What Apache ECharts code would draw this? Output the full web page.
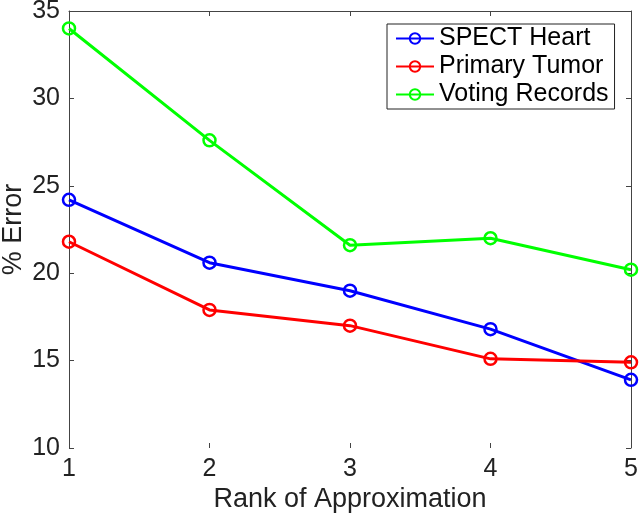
<!DOCTYPE html>
<html>
<head>
<meta charset="utf-8">
<script src="https://cdn.jsdelivr.net/npm/echarts@6/dist/echarts.min.js"></script>
<style>
html,body{margin:0;padding:0;background:#fff;}
#chart{width:640px;height:514px;}
</style>
</head>
<body>
<div id="chart"></div>
<script>
const ranks = [1, 2, 3, 4, 5];
const spectHeart = [24.2, 20.6, 19.0, 16.8, 13.9];
const primaryTumor = [21.8, 17.9, 17.0, 15.1, 14.9];
const votingRecords = [34.0, 27.6, 21.6, 22.0, 20.2];
const seriesNames = ['SPECT Heart', 'Primary Tumor', 'Voting Records'];
const seriesColors = ['#0000ff', '#ff0000', '#00ff00'];
const seriesValues = [spectHeart, primaryTumor, votingRecords];

const FONT = 'Liberation Sans, Arial, Helvetica, sans-serif';
const axisCol = '#444';

const chart = echarts.init(document.getElementById('chart'), null, {renderer: 'canvas'});
chart.setOption({
  animation: false,
  backgroundColor: '#fff',
  textStyle: {fontFamily: FONT},
  grid: {left: 69, right: 9, top: 11, bottom: 66, containLabel: false, outerBoundsMode: 'none'},
  legend: {
    orient: 'vertical',
    left: 387, top: 24,
    data: seriesNames,
    itemWidth: 38, itemHeight: 13, itemGap: 3,
    padding: [2, 6, 2, 8],
    backgroundColor: '#fff',
    borderColor: '#222', borderWidth: 1,
    textStyle: {fontSize: 25, color: '#000', fontFamily: FONT, lineHeight: 25}
  },
  xAxis: [{
    type: 'value', min: 1, max: 5, interval: 1,
    name: 'Rank of Approximation', nameLocation: 'middle', nameGap: 38,
    nameMoveOverlap: false,
    nameTextStyle: {fontSize: 27, color: '#222', fontFamily: FONT},
    axisLine: {show: false},
    axisTick: {show: true, inside: true, length: 5, lineStyle: {color: axisCol}},
    axisLabel: {fontSize: 25, color: '#222', margin: 9, fontFamily: FONT},
    splitLine: {show: false}
  }, {
    type: 'value', min: 1, max: 5, interval: 1, position: 'top',
    axisLine: {show: true, onZero: false, lineStyle: {color: axisCol, width: 1}},
    axisTick: {show: true, inside: true, length: 5, lineStyle: {color: axisCol}},
    axisLabel: {show: false}, splitLine: {show: false}
  }],
  yAxis: [{
    type: 'value', min: 10, max: 35, interval: 5,
    name: '% Error', nameLocation: 'middle', nameGap: 42,
    nameMoveOverlap: false,
    nameTextStyle: {fontSize: 27, color: '#222', fontFamily: FONT},
    axisLine: {show: true, onZero: false, lineStyle: {color: axisCol, width: 1}},
    axisTick: {show: true, inside: true, length: 5, lineStyle: {color: axisCol}},
    axisLabel: {fontSize: 25, color: '#222', margin: 9, fontFamily: FONT},
    splitLine: {show: false}
  }, {
    type: 'value', min: 10, max: 35, interval: 5, position: 'right',
    axisLine: {show: true, onZero: false, lineStyle: {color: axisCol, width: 1}},
    axisTick: {show: true, inside: true, length: 5, lineStyle: {color: axisCol}},
    axisLabel: {show: false}, splitLine: {show: false}
  }],
  series: seriesNames.map((name, k) => ({
    name: name,
    type: 'line',
    data: ranks.map((r, i) => [r, seriesValues[k][i]]),
    symbol: 'circle',
    symbolSize: 12,
    showAllSymbol: true,
    color: seriesColors[k],
    lineStyle: {color: seriesColors[k], width: 3},
    itemStyle: {color: 'rgba(255,255,255,0)', borderColor: seriesColors[k], borderWidth: 2.5},
    emphasis: {disabled: true},
    clip: false,
    z: 2 + k
  }))
});
</script>
</body>
</html>
